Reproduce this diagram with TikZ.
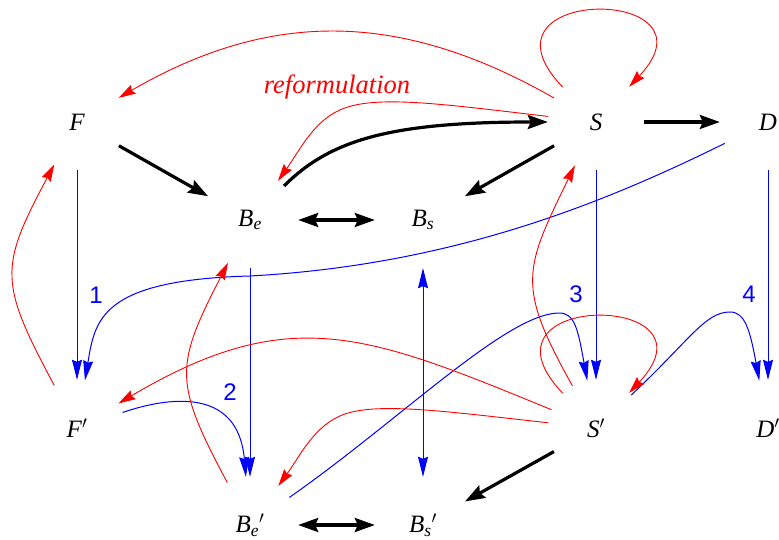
\documentclass[tikz,border=0pt]{standalone}
\usepackage{fontspec}
\setmainfont{Liberation Serif}
\newfontfamily\numfont{Liberation Sans}
\usetikzlibrary{arrows.meta}
\definecolor{figred}{RGB}{255,0,0}
\definecolor{figblue}{RGB}{0,0,255}

\begin{document}
\begin{tikzpicture}[x=1pt, y=-1pt, every node/.style={font=\fontsize{25}{29}\selectfont},
  vtx/.style={circle,minimum size=96pt,inner sep=0pt},
  num/.style={text=figblue,font=\fontsize{24}{28}\selectfont\numfont},
  thickarr/.style={line width=3.2pt,-{Stealth[length=20pt,width=14pt,inset=3pt]}},
  thickboth/.style={line width=3.2pt,{Stealth[length=20pt,width=14pt,inset=3pt]}-{Stealth[length=20pt,width=14pt,inset=3pt]}},
  bluearr/.style={figblue,line width=1pt,-{Stealth[length=20pt,width=10pt,inset=2pt]}},
  blueboth/.style={figblue,line width=1pt,{Stealth[length=20pt,width=10pt,inset=2pt]}-{Stealth[length=20pt,width=10pt,inset=2pt]}},
  redarr/.style={figred,line width=0.9pt,-{Stealth[length=17pt,width=10pt,inset=2pt]}}]
\useasboundingbox (0,0) rectangle (779,540);
\node[vtx] (F) at (77,122) {\textit{F}};
\node[vtx] (Be) at (250,220) {\textit{B}\textsubscript{\textit{e}}};
\node[vtx] (Bs) at (423,220) {\textit{B}\textsubscript{\textit{s}}};
\node[vtx] (S) at (596,122) {\textit{S}};
\node[vtx] (D) at (768,122) {\textit{D}};
\node[vtx] (Fp) at (77,428) {\textit{F}$'$};
\node[vtx] (Bep) at (250,525) {\textit{B}\textsubscript{\textit{e}}$'$};
\node[vtx] (Bsp) at (423,525) {\textit{B}\textsubscript{\textit{s}}$'$};
\node[vtx] (Sp) at (596,428) {\textit{S}$'$};
\node[vtx] (Dp) at (768,428) {\textit{D}$'$};
\node[text=figred,font=\fontsize{26.5}{30}\selectfont] (reform) at (337,87) {\textit{reformulation}};
\node[num] (n1) at (96,295) {1};
\node[num] (n2) at (230,392) {2};
\node[num] (n3) at (576,294) {3};
\node[num] (n4) at (749,294) {4};

\draw[thickarr] (F) -- (Be);
\draw[thickboth] (Be) -- (Bs);
\draw[thickarr] (Be) .. controls (330,140) and (390,122) .. (S);
\draw[thickarr] (S) -- (D);
\draw[thickarr] (S) -- (Bs);
\draw[thickarr] (Sp) -- (Bsp);
\draw[thickboth] (Bep) -- (Bsp);

\draw[bluearr] (F) -- (Fp);
\draw[bluearr] (Be) -- (Bep);
\draw[bluearr] (S) -- (Sp);
\draw[bluearr] (D) -- (Dp);
\draw[blueboth] (Bs) -- (Bsp);
\draw[bluearr] (D) .. controls (600,205) and (450,265) .. (250,276) .. controls (100,280) and (95,320) .. (Fp);
\draw[bluearr] (Fp) .. controls (165,398) and (238,385) .. (Bep);
\draw[bluearr] (Bep) .. controls (400,420) and (505,315) .. (558,313) .. controls (575,312) and (578,330) .. (Sp);
\draw[bluearr] (Sp) .. controls (690,340) and (705,312) .. (730,312) .. controls (745,312) and (750,330) .. (Dp);

\draw[redarr] (S) .. controls (400,10) and (270,10) .. (F);
\draw[redarr] (S) .. controls (450,105) and (380,95) .. (345,108) .. controls (315,118) and (300,150) .. (Be);
\draw[redarr] (S) .. controls (465,-15) and (725,-15) .. (S);
\draw[redarr] (Sp) .. controls (465,291) and (725,291) .. (Sp);
\draw[redarr] (Sp) .. controls (516,285) and (524,270) .. (S);
\draw[redarr] (Sp) .. controls (367,334) and (290,302) .. (Fp);
\draw[redarr] (Sp) .. controls (450,412) and (380,402) .. (345,414) .. controls (315,424) and (300,456) .. (Bep);
\draw[redarr] (Fp) .. controls (-1,282) and (-1,268) .. (F);
\draw[redarr] (Bep) .. controls (173,381) and (175,366) .. (Be);
\end{tikzpicture}
\end{document}
